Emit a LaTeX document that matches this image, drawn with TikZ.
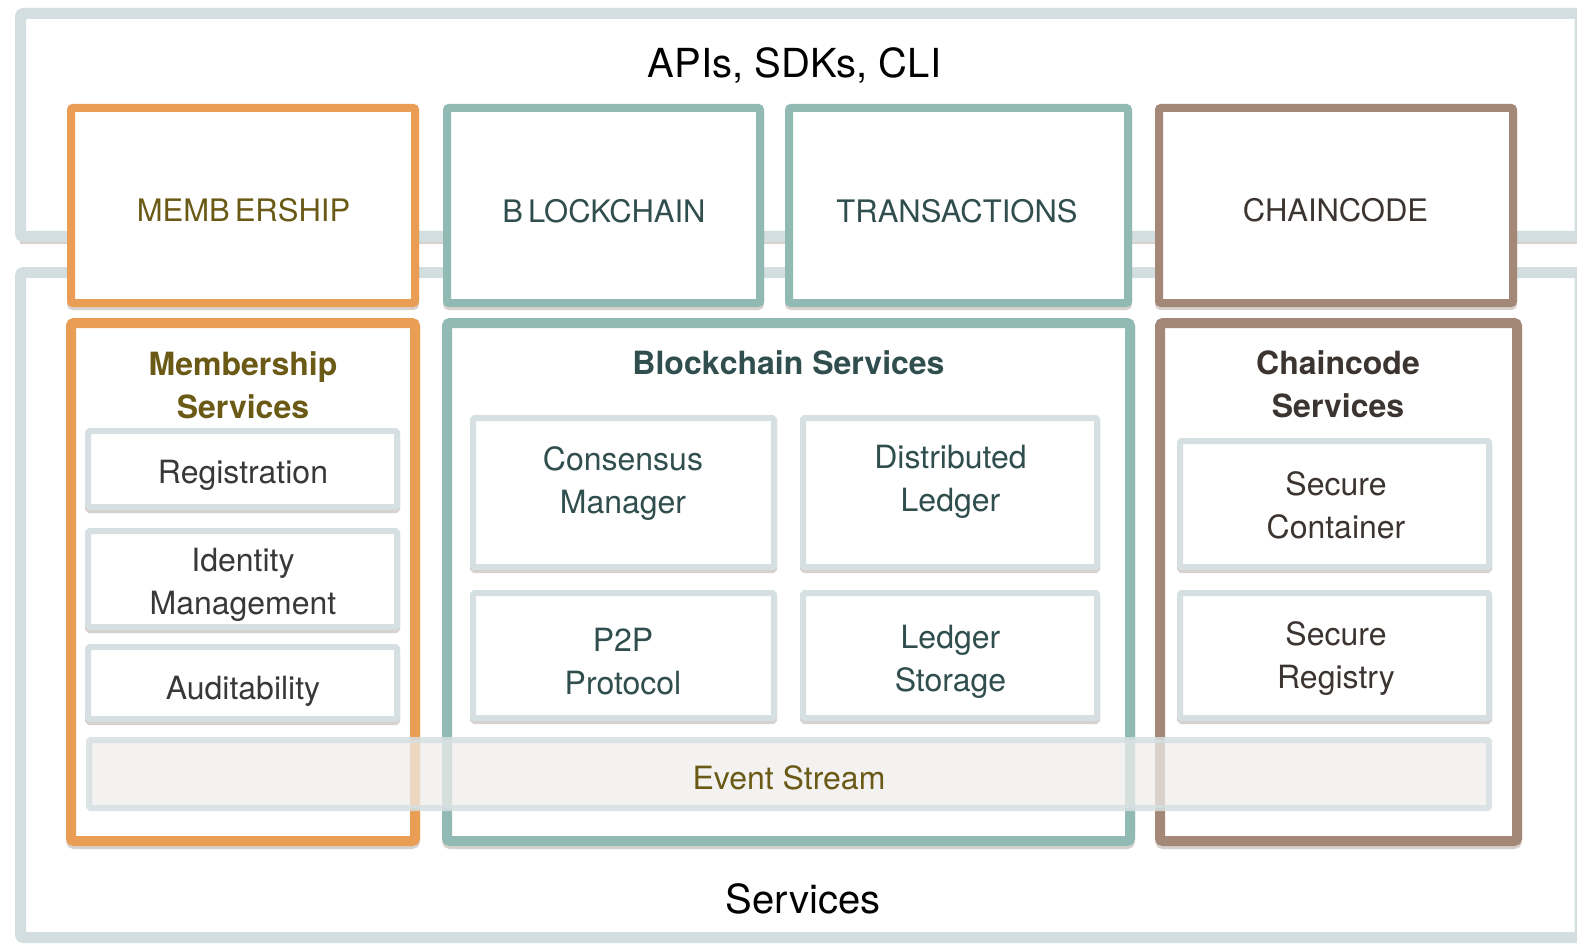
\documentclass[tikz,border=0pt]{standalone}
\usepackage{fontspec}
\setmainfont{TeX Gyre Heros}
\usetikzlibrary{shadows}
\definecolor{framec}{HTML}{D3DEE0}
\definecolor{orangec}{HTML}{EA9D54}
\definecolor{tealc}{HTML}{92BAB5}
\definecolor{brownc}{HTML}{A38777}
\definecolor{innc}{HTML}{D6E0E2}
\definecolor{evfill}{HTML}{EFEEEC}
\definecolor{shadc}{HTML}{7E6C60}
\definecolor{olivet}{HTML}{6B5A16}
\definecolor{tealt}{HTML}{2F4E4D}
\definecolor{darkt}{HTML}{383838}
\definecolor{chaint}{HTML}{3B3431}
\newcommand\twol[2]{\vtop{\baselineskip=43pt\halign{\hfil##\hfil\cr#1\cr#2\cr}}}
\begin{document}
\begin{tikzpicture}[x=1pt,y=-1pt,
  shad/.style={drop shadow={shadow xshift=0pt, shadow yshift=-3pt, opacity=0.3, fill=shadc, draw=shadc}},
  frameb/.style={draw=framec, line width=11pt, rounded corners=3pt, inner sep=0pt, outer sep=0pt},
  topb/.style={draw=#1, line width=8pt, fill=white, rounded corners=2pt, inner sep=0pt, outer sep=0pt, shad},
  svcb/.style={draw=#1, line width=10pt, fill=white, rounded corners=3pt, inner sep=0pt, outer sep=0pt, shad},
  innb/.style={draw=innc, line width=6pt, fill=white, rounded corners=1.5pt, inner sep=0pt, outer sep=0pt, shad},
  evb/.style={draw=innc, line width=6pt, fill=evfill, fill opacity=0.72, draw opacity=0.85, rounded corners=1.5pt, inner sep=0pt, outer sep=0pt},
  lbl/.style={font=\fontsize{32}{43}\selectfont, inner sep=0pt, anchor=base},
  capl/.style={font=\fontsize{31}{37}\selectfont, inner sep=0pt, anchor=base},
  ttl/.style={font=\bfseries\fontsize{32}{43}\selectfont, inner sep=0pt, anchor=base},
  big/.style={font=\fontsize{40}{48}\selectfont, inner sep=0pt, anchor=base, text=black}
]
\path[use as bounding box, fill=white] (0,0) rectangle (1577,944);

% outer frames
\draw[shadc, opacity=0.3, line width=3pt] (20,242.5) -- (1580,242.5);
\node[frameb, minimum width=1559.5pt, minimum height=223pt] (apiframe) at (800.25,125) {};
\node[frameb, minimum width=1559.5pt, minimum height=665pt] (svcframe) at (800.25,605) {};

\node[big] (apis) at (794.5,77.4) {APIs, SDKs, CLI};
\node[big] (services) at (803,913) {Services};

% top boxes
\node[topb=orangec, minimum width=344pt, minimum height=195pt] (mem) at (243,205.5) {};
\node[topb=tealc, minimum width=313pt, minimum height=195pt] (blk) at (603.5,205.5) {};
\node[topb=tealc, minimum width=339pt, minimum height=195pt] (trn) at (958.5,205.5) {};
\node[topb=brownc, minimum width=354pt, minimum height=195pt] (chc) at (1336,205.5) {};
\node[capl, text=olivet] (memT) at (243.5,222) {MEMB\kern5pt ERSHIP};
\node[capl, text=tealt] (blkT) at (604,223) {B\kern5pt LOCKCHAIN};
\node[capl, text=tealt] (trnT) at (957,223) {TRANSACTIONS};
\node[capl, text=chaint] (chcT) at (1335.5,222) {CHAINCODE};

% service boxes
\node[svcb=orangec, minimum width=344pt, minimum height=518pt] (msv) at (243,582) {};
\node[svcb=tealc, minimum width=683pt, minimum height=518pt] (bsv) at (788.5,582) {};
\node[svcb=brownc, minimum width=357pt, minimum height=518pt] (csv) at (1338.5,582) {};
\node[ttl, text=olivet] (msvT) at (243,375) {\twol{Membership}{Services}};
\node[ttl, text=tealt] (bsvT) at (788.5,374) {Blockchain Services};
\node[ttl, text=chaint] (csvT) at (1338,374) {\twol{Chaincode}{Services}};

% inner boxes
\node[innb, minimum width=309pt, minimum height=76pt] (reg) at (242.5,469) {};
\node[innb, minimum width=309pt, minimum height=96pt] (idm) at (242.5,579) {};
\node[innb, minimum width=309pt, minimum height=72pt] (aud) at (242.5,683) {};
\node[innb, minimum width=301pt, minimum height=149pt] (cons) at (623.5,492.5) {};
\node[innb, minimum width=294pt, minimum height=149pt] (dist) at (950,492.5) {};
\node[innb, minimum width=301pt, minimum height=125pt] (p2p) at (623.5,655.5) {};
\node[innb, minimum width=294pt, minimum height=125pt] (lst) at (950,655.5) {};
\node[innb, minimum width=309pt, minimum height=126pt] (sc) at (1334.5,504) {};
\node[innb, minimum width=309pt, minimum height=125pt] (sr) at (1334.5,655.5) {};

\node[lbl, text=darkt] (regT) at (243,483) {Registration};
\node[lbl, text=darkt] (idmT) at (243,571) {\twol{Identity}{Management}};
\node[lbl, text=darkt] (audT) at (243,699) {Auditability};
\node[lbl, text=tealt] (consT) at (623,470) {\twol{Consensus}{Manager}};
\node[lbl, text=tealt] (distT) at (950.5,468) {\twol{Distributed}{Ledger}};
\node[lbl, text=tealt] (p2pT) at (623,651) {\twol{P2P}{Protocol}};
\node[lbl, text=tealt] (lstT) at (950.5,648) {\twol{Ledger}{Storage}};
\node[lbl, text=chaint] (scT) at (1336,495) {\twol{Secure}{Container}};
\node[lbl, text=chaint] (srT) at (1336,645) {\twol{Secure}{Registry}};

% event stream
\node[evb, minimum width=1400pt, minimum height=68pt] (ev) at (789,774) {};
\node[lbl, text=olivet] (evT) at (789,789.5) {Event Stream};
\end{tikzpicture}
\end{document}
